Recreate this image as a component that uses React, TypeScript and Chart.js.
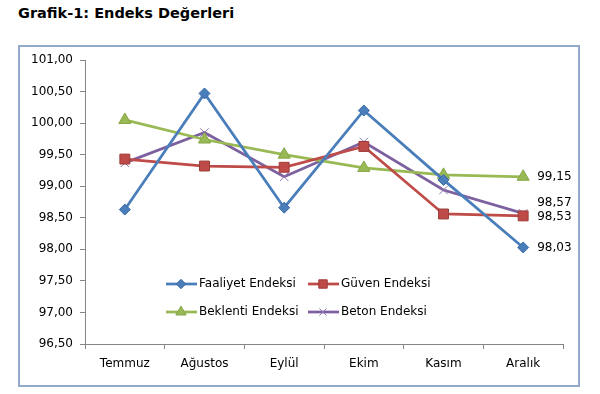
import React, { useEffect, useRef } from "react";
import { Chart, registerables } from "chart.js";
import { drawPoint } from "chart.js/helpers";

Chart.register(...registerables);

const categories = ["Temmuz", "Ağustos", "Eylül", "Ekim", "Kasım", "Aralık"];
const faaliyet = [98.63, 100.47, 98.66, 100.2, 99.1, 98.03];
const guven = [99.43, 99.32, 99.3, 99.63, 98.56, 98.53];
const beklenti = [100.05, 99.74, 99.5, 99.29, 99.18, 99.15];
const beton = [99.37, 99.85, 99.15, 99.7, 98.94, 98.57];
const seriesNames = ["Faaliyet Endeksi", "Güven Endeksi", "Beklenti Endeksi", "Beton Endeksi"];
const yMin = 96.5;
const yMax = 101;
const yStep = 0.5;

const FONT = "'DejaVu Sans', Verdana, sans-serif";
const fmt = (v: number) => v.toFixed(2).replace(".", ",");

const legendPlugin = {
  id: "innerLegend",
  afterDraw(chart: any) {
    const { ctx, chartArea } = chart;
    const x0 = chartArea.left + 81;
    const y0 = chartArea.bottom - 60;
    ctx.save();
    chart.data.datasets.forEach((ds: any, i: number) => {
      const col = i % 2;
      const row = Math.floor(i / 2);
      const lx = x0 + col * 142;
      const ly = y0 + row * 28;
      ctx.strokeStyle = ds.borderColor;
      ctx.lineWidth = ds.borderWidth;
      ctx.beginPath();
      ctx.moveTo(lx, ly);
      ctx.lineTo(lx + 31, ly);
      ctx.stroke();
      ctx.fillStyle = ds.pointBackgroundColor;
      ctx.strokeStyle = ds.pointBorderColor;
      ctx.lineWidth = ds.pointBorderWidth;
      drawPoint(ctx, { pointStyle: ds.pointStyle, rotation: 0, borderWidth: ds.pointBorderWidth, radius: ds.pointRadius * 0.85 }, lx + 15, ly);
      ctx.fillStyle = "#000";
      ctx.font = `12px ${FONT}`;
      ctx.textAlign = "left";
      ctx.textBaseline = "middle";
      ctx.fillText(ds.label, lx + 33, ly);
    });
    ctx.restore();
  },
};

const endLabelOffsets = [0, 1, 0, -10];

const endLabelPlugin = {
  id: "endLabels",
  afterDatasetsDraw(chart: any) {
    const { ctx } = chart;
    ctx.save();
    ctx.font = `12px ${FONT}`;
    ctx.fillStyle = "#000";
    ctx.textAlign = "left";
    ctx.textBaseline = "middle";
    chart.data.datasets.forEach((ds: any, i: number) => {
      const meta = chart.getDatasetMeta(i);
      const last = meta.data[meta.data.length - 1];
      const v = ds.data[ds.data.length - 1];
      ctx.fillText(fmt(v), last.x + 14, last.y + endLabelOffsets[i]);
    });
    ctx.restore();
  },
};

export default function App() {
  const ref = useRef<HTMLCanvasElement>(null);
  useEffect(() => {
    if (!ref.current) return;
    const mk = (label: string, data: number[], color: string, border: string, style: string, r: number, bw: number) => ({
      label,
      data,
      borderColor: color,
      backgroundColor: color,
      borderWidth: 2.75,
      pointStyle: style,
      pointRadius: r,
      pointHoverRadius: r,
      pointBackgroundColor: color,
      pointBorderColor: border,
      pointBorderWidth: bw,
      tension: 0,
      fill: false,
    });
    const chart = new Chart(ref.current, {
      type: "line",
      data: {
        labels: categories,
        datasets: [
          mk(seriesNames[0], faaliyet, "#4A7EBB", "#3B6AA5", "rectRot", 5.5, 1),
          mk(seriesNames[1], guven, "#BE4B48", "#9C3B39", "rect", 7, 1),
          mk(seriesNames[2], beklenti, "#98B954", "#86A548", "triangle", 7, 1),
          mk(seriesNames[3], beton, "#7D60A0", "#8E79AE", "crossRot", 6, 1),
        ],
      },
      options: {
        animation: false,
        responsive: false,
        events: [],
        layout: { padding: { left: 19, top: 60, right: 37, bottom: 19 } },
        plugins: { legend: { display: false }, tooltip: { enabled: false }, title: { display: false } },
        scales: {
          x: {
            offset: true,
            afterFit: (s: any) => { s.height = 31; },
            grid: { drawOnChartArea: false, tickLength: 5, color: "#868686", offset: true },
            border: { color: "#868686", width: 1 },
            ticks: { color: "#000", font: { family: FONT, size: 12 }, padding: 8, maxRotation: 0 },
          },
          y: {
            min: yMin,
            max: yMax,
            afterFit: (s: any) => { s.width = 66; },
            grid: { drawOnChartArea: false, tickLength: 5, color: "#868686" },
            border: { color: "#868686", width: 1 },
            ticks: { stepSize: yStep, color: "#000", font: { family: FONT, size: 12 }, padding: 7, callback: (v: any) => fmt(Number(v)) },
          },
        },
      },
      plugins: [legendPlugin, endLabelPlugin],
    });
    return () => chart.destroy();
  }, []);
  return (
    <div style={{ position: "absolute", left: 0, top: 0, width: 600, height: 394, background: "#fff", overflow: "hidden" }}>
      <div style={{ position: "absolute", left: 18, top: 5, font: `bold 14.5px ${FONT}`, color: "#000", whiteSpace: "nowrap" }}>
        Grafik-1: Endeks Değerleri
      </div>
      <div style={{ position: "absolute", left: 18, top: 45, width: 558, height: 338, border: "2px solid #93A9CE" }} />
      <canvas ref={ref} width={600} height={394} style={{ position: "absolute", left: 0, top: 0, width: 600, height: 394 }} />
    </div>
  );
}
